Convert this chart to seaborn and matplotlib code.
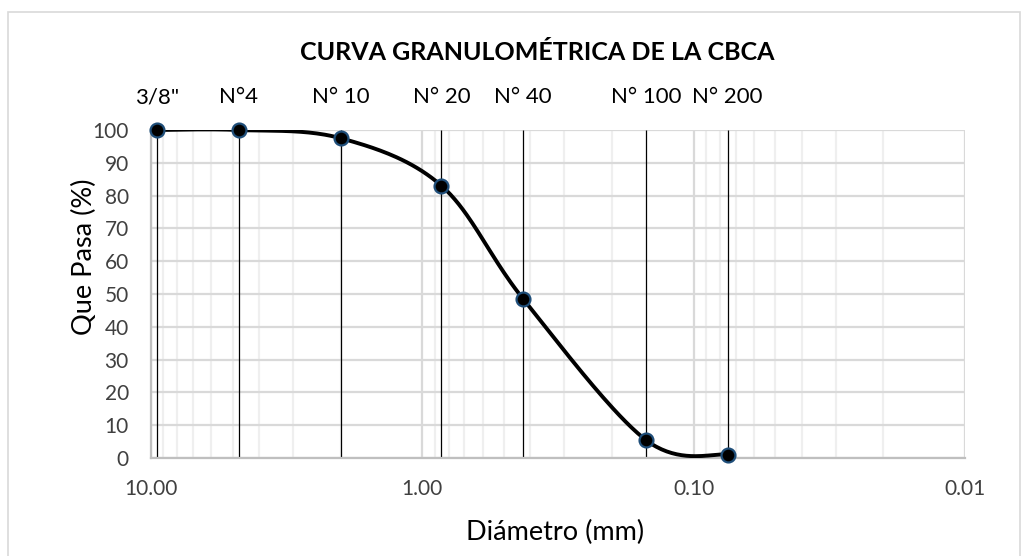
import numpy as np
import pandas as pd
import matplotlib
matplotlib.use("Agg")
import matplotlib.pyplot as plt
import seaborn as sns
from matplotlib.ticker import FixedLocator, LogLocator, NullFormatter, FuncFormatter
from matplotlib.patches import Rectangle
import matplotlib.transforms as mtransforms

# ---- data ----
sieves = ['3/8"', "N°4", "N° 10", "N° 20", "N° 40", "N° 100", "N° 200"]
diameters = [9.5, 4.75, 2.0, 0.85, 0.425, 0.15, 0.075]
passing = [100.0, 100.0, 97.5, 83.0, 48.5, 5.5, 1.0]
x_ticks = [10.0, 1.0, 0.1, 0.01]
y_ticks = [0, 10, 20, 30, 40, 50, 60, 70, 80, 90, 100]
title = "CURVA GRANULOMÉTRICA DE LA CBCA"
xlabel = "Diámetro (mm)"
ylabel = "Que Pasa (%)"

df = pd.DataFrame({"d": diameters, "p": passing, "s": sieves})

sns.set_theme(style="white")
plt.rcParams["font.family"] = ["Lato", "DejaVu Sans"]

W, H = 1029, 556
fig = plt.figure(figsize=(W / 100, H / 100), dpi=100)
L, R, T, B = 151, 965, 130, 458
ax = fig.add_axes([L / W, 1 - B / H, (R - L) / W, (B - T) / H])

# outer chart border
fig.patches.append(Rectangle((8 / W, -0.05), (1020 - 8) / W, 1.05 - 12 / H,
                             transform=fig.transFigure, fill=False,
                             edgecolor="#d9d9d9", linewidth=1.2, zorder=0))

ax.set_xscale("log")
ax.set_xlim(10, 0.01)
ax.set_ylim(0, 100)

# grid
ax.xaxis.set_major_locator(FixedLocator(x_ticks))
ax.xaxis.set_minor_locator(LogLocator(base=10, subs=np.arange(2, 10)))
ax.xaxis.set_minor_formatter(NullFormatter())
ax.xaxis.set_major_formatter(FuncFormatter(lambda v, p: f"{v:.2f}"))
ax.yaxis.set_major_locator(FixedLocator(y_ticks))
ax.grid(which="major", axis="both", color="#d9d9d9", linewidth=1.6)
ax.grid(which="minor", axis="x", color="#efefef", linewidth=1.6)
ax.set_axisbelow(True)
for s in ["top", "right"]:
    ax.spines[s].set_visible(False)
for s in ["left", "bottom"]:
    ax.spines[s].set_color("#bfbfbf")
    ax.spines[s].set_linewidth(1.6)
ax.tick_params(axis="both", which="both", length=0)
ax.tick_params(axis="y", labelsize=15, pad=16, labelcolor="#404040")
ax.tick_params(axis="x", labelsize=15, pad=15, labelcolor="#404040")

# vertical sieve lines
ax.vlines(df["d"], 0, 100, color="black", linewidth=0.9, zorder=2)

# Excel-like smoothed curve (bezier in screen space)
sx = 271.0  # px per decade
sy = (B - T) / 100.0
u = -np.log10(df["d"].to_numpy()) * sx
v = df["p"].to_numpy() * sy
P = np.column_stack([u, v])
n = len(P)
curve = []
t = np.linspace(0, 1, 40)
for i in range(n - 1):
    p0 = P[i - 1] if i > 0 else P[i]
    p1 = P[i]
    p2 = P[i + 1]
    p3 = P[i + 2] if i + 2 < n else P[i + 1]
    c1 = p1 + (p2 - p0) / 6.0
    c2 = p2 - (p3 - p1) / 6.0
    seg = ((1 - t) ** 3)[:, None] * p1 + (3 * (1 - t) ** 2 * t)[:, None] * c1 \
        + (3 * (1 - t) * t ** 2)[:, None] * c2 + (t ** 3)[:, None] * p2
    curve.append(seg if i == 0 else seg[1:])
curve = np.vstack(curve)
cdf = pd.DataFrame({"d": 10 ** (-curve[:, 0] / sx), "p": curve[:, 1] / sy})
sns.lineplot(data=cdf, x="d", y="p", sort=False, color="black", linewidth=2.8,
             ax=ax, zorder=3)
sns.scatterplot(data=df, x="d", y="p", s=100, color="black", edgecolor="#1f4e79",
                linewidth=1.6, ax=ax, zorder=4, clip_on=False)

ax.set_xlabel("")
ax.set_ylabel("")

# sieve labels above
trans = mtransforms.blended_transform_factory(ax.transData, ax.transAxes)
for d, s in zip(df["d"], df["s"]):
    ax.text(d, (B - 97) / (B - T), s, transform=trans, ha="center", va="center",
            fontsize=16, color="black")

fig.text(537 / W, 1 - 52 / H, title, ha="center", va="center", fontsize=18,
         fontweight="bold", color="black")
fig.text(555 / W, 1 - 532 / H, xlabel, ha="center", va="center", fontsize=19.5,
         color="black")
fig.text(84 / W, 1 - 257 / H, ylabel, ha="center", va="center", fontsize=19.5,
         rotation=90, color="black")

fig.savefig("out.png", dpi=100)
